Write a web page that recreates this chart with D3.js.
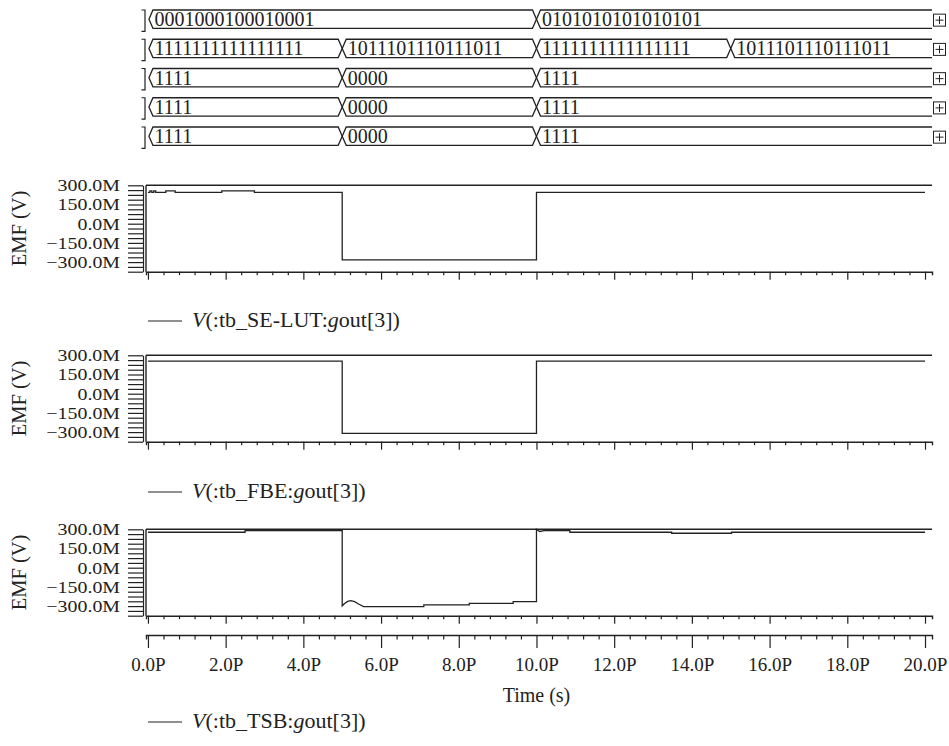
<!DOCTYPE html>
<html>
<head>
<meta charset="utf-8">
<script src="https://cdn.jsdelivr.net/npm/d3@7"></script>
<style>
  body { margin: 0; background: #fff; }
  text { font-family: "Liberation Serif", "Times New Roman", serif; fill: #222; }
</style>
</head>
<body>
<svg id="chart" width="949" height="746"></svg>
<script>
// bus rows: change times (ps) and the value shown after each change
const busEdges = [[0, 10], [0, 5, 10, 15], [0, 5, 10], [0, 5, 10], [0, 5, 10]]
const busValues = [
  ['0001000100010001', '0101010101010101'],
  ['1111111111111111', '1011101110111011', '1111111111111111', '1011101110111011'],
  ['1111', '0000', '1111'],
  ['1111', '0000', '1111'],
  ['1111', '0000', '1111']
]

// analog traces, time in ps, EMF in M(V)
const seLutT = [0, 0.05, 0.05, 0.1, 0.1, 0.15, 0.15, 0.2, 0.2, 0.46, 0.46, 0.7, 0.7, 1.9, 1.9, 2.74, 2.74, 5, 5, 10, 10, 20]
const seLutV = [245, 245, 257, 257, 245, 245, 257, 257, 245, 245, 257, 257, 245, 245, 257, 257, 245, 245, -283, -283, 245, 245]
const fbeT = [0, 5, 5, 10, 10, 20]
const fbeV = [255, 255, -310, -310, 255, 255]
const tsbT = [0, 2.5, 2.5, 5, 5, 5.06, 5.14, 5.22, 5.32, 5.42, 5.55, 7.1, 7.1, 8.27, 8.27, 9.4, 9.4, 10, 10, 10.08, 10.2, 10.86, 10.86, 13.48, 13.48, 15.02, 15.02, 20]
const tsbV = [277, 277, 289, 289, -299, -280, -263, -258, -265, -284, -304, -304, -291, -291, -278, -278, -265, -265, 300, 283, 289, 289, 277, 277, 269, 269, 277, 277]

const traceNames = ['tb_SE-LUT', 'tb_FBE', 'tb_TSB']
const yTicks = d3.range(0, 19).map(i => -375 + i * 37.5)
const xTicks = d3.range(0, 51).map(i => i * 0.4)

const ink = '#222'
const svg = d3.select('#chart')
const x = d3.scaleLinear().domain([-0.05, 20.18]).range([146, 932])

// ---- bus rows ----
const rowTop0 = 10, rowPitch = 29.25, rowH = 18.3, w = 4
const xEnd = 932
busEdges.forEach((edges, r) => {
  const top = rowTop0 + r * rowPitch, bot = top + rowH, mid = (top + bot) / 2
  const g = svg.append('g')
  // left bracket
  g.append('path')
    .attr('d', `M141.5,${top}H145V${bot + 3}H141.5`)
    .attr('fill', 'none').attr('stroke', ink).attr('stroke-width', 1.2)
  edges.forEach((t, i) => {
    const xs = i === 0 ? x(t) + 1 : x(t)
    const last = i === edges.length - 1
    let d
    if (last) {
      d = `M${xEnd},${top}L${xs + w},${top}L${xs},${mid}L${xs + w},${bot}L${xEnd},${bot}`
    } else {
      const xe = x(edges[i + 1])
      d = `M${xs},${mid}L${xs + w},${top}L${xe - w},${top}L${xe},${mid}L${xe - w},${bot}L${xs + w},${bot}Z`
    }
    g.append('path').attr('d', d)
      .attr('fill', 'none').attr('stroke', ink).attr('stroke-width', 1.3)
    g.append('text')
      .attr('x', xs + w + 1.5)
      .attr('y', bot - 2.3)
      .style('font-size', '20px')
      .text(busValues[r][i])
  })
  // expand box
  const by = mid - 5
  g.append('rect').attr('x', 933.5).attr('y', by).attr('width', 12).attr('height', 12)
    .attr('fill', 'none').attr('stroke', ink).attr('stroke-width', 1)
  g.append('path').attr('d', `M935.5,${by + 6}H943.5M939.5,${by + 2}V${by + 10}`)
    .attr('stroke', ink).attr('stroke-width', 1)
})

// ---- analog plots ----
const plotAxisY = [271.7, 441.7, 615.7]
const plotH = 86.4
const legendY = [321, 492, 722]
const series = [[seLutT, seLutV], [fbeT, fbeV], [tsbT, tsbV]]

function bottomAxis(g, yPos, minor, major, labels) {
  const ax = d3.axisBottom(x).tickValues(xTicks).tickSizeOuter(0).tickSize(minor)
    .tickFormat((v, i) => labels && i % 5 === 0 ? d3.format('.1f')(v) + 'P' : '')
  const a = g.append('g').attr('transform', `translate(0,${yPos})`).call(ax)
  a.select('.domain').attr('stroke', ink).attr('stroke-width', 1.4)
  a.selectAll('.tick line').attr('stroke', ink).attr('stroke-width', 1.2)
    .attr('y2', (v, i) => i % 5 === 0 ? major : minor)
  a.selectAll('.tick text').attr('y', major + 10).attr('fill', ink)
    .style('font-size', '19px').style('font-family', '"Liberation Serif", serif')
  return a
}

series.forEach(([ts, vs], p) => {
  const axisY = plotAxisY[p], top = axisY - plotH
  const y = d3.scaleLinear().domain([-375, 300]).range([axisY, top])
  const g = svg.append('g')

  // frame: top line and left edge
  g.append('path').attr('d', `M146,${top}H${xEnd}M146,${top}V${axisY}`)
    .attr('fill', 'none').attr('stroke', ink).attr('stroke-width', 1.4)

  // y axis ladder
  const ya = g.append('g').attr('transform', 'translate(143,0)')
    .call(d3.axisLeft(y).tickValues(yTicks).tickSize(15).tickSizeOuter(0).tickPadding(8)
      .tickFormat(v => v % 150 === 0 ? (v < 0 ? '\u2212' : '') + Math.abs(v).toFixed(1) + 'M' : ''))
  ya.select('.domain').attr('stroke', ink).attr('stroke-width', 1.2)
  ya.selectAll('.tick line').attr('stroke', ink).attr('stroke-width', 1.2)
  ya.selectAll('.tick text').filter(function() { return this.textContent !== '' })
    .attr('fill', ink)
    .style('font-size', '17px').style('font-family', '"Liberation Serif", serif')
    .each(function() {
      // the source font is wider than Times: stretch the glyphs sideways
      const len = this.getComputedTextLength()
      d3.select(this).attr('textLength', len * 1.17).attr('lengthAdjust', 'spacingAndGlyphs')
    })

  g.append('text')
    .attr('transform', `translate(26,${(top + axisY) / 2}) rotate(-90)`)
    .attr('text-anchor', 'middle')
    .style('font-size', '20.5px')
    .text('EMF (V)')

  bottomAxis(g, axisY, 3.5, 8, false)

  const line = d3.line().x(d => x(d[0])).y(d => y(d[1]))
  g.append('path')
    .attr('d', line(ts.map((t, i) => [t, vs[i]])))
    .attr('fill', 'none').attr('stroke', ink).attr('stroke-width', 1.3)

  // legend
  const ly = legendY[p]
  g.append('line').attr('x1', 148).attr('x2', 182).attr('y1', ly).attr('y2', ly)
    .attr('stroke', ink).attr('stroke-width', 1.2)
  const lt = g.append('text').attr('x', 192).attr('y', ly + 6).style('font-size', '22px')
  lt.append('tspan').style('font-style', 'italic').text('V')
  lt.append('tspan').text('(:' + traceNames[p] + ':')
  lt.append('tspan').style('font-style', 'italic').text('g')
  lt.append('tspan').text('out[3])')
})

// time axis under the last plot
const tg = svg.append('g')
bottomAxis(tg, 635, 4.5, 13, true)
tg.append('text').attr('x', x(10)).attr('y', 702).attr('text-anchor', 'middle')
  .style('font-size', '20px').text('Time (s)')
</script>
</body>
</html>
